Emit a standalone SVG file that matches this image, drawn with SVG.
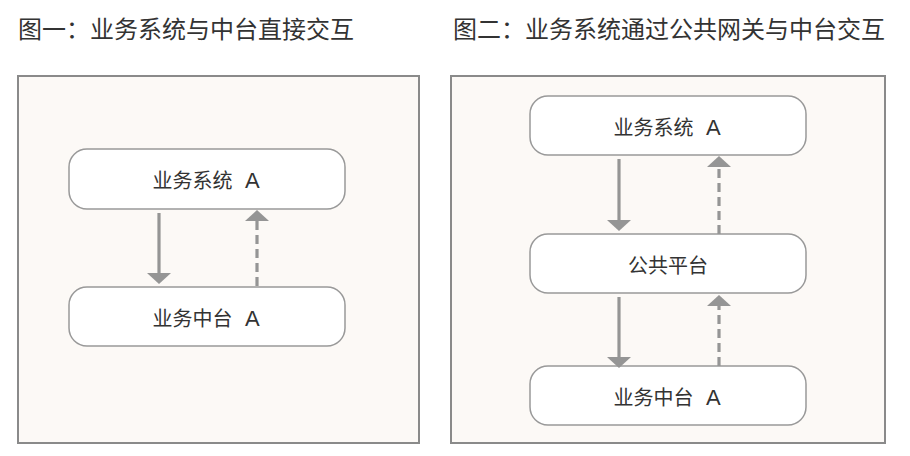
<svg xmlns="http://www.w3.org/2000/svg" width="910" height="456" viewBox="0 0 910 456">
<defs>
<style>
.title{font-family:"Noto Sans CJK SC","Noto Sans",sans-serif;font-size:24px;fill:#333}
.frame{fill:#fcf9f6;stroke:#8a8a8a;stroke-width:2}
.box{fill:#fff;stroke:#999;stroke-width:1.5}
.lbl{font-family:"Noto Sans CJK SC","Noto Sans",sans-serif;font-size:20px;fill:#333}
.lat{font-family:"Liberation Sans","Noto Sans",sans-serif;font-size:22px}
.arr{stroke:#959595;stroke-width:3.2;fill:none;marker-end:url(#ah)}
.dash{stroke-dasharray:9 5}
</style>
<marker id="ah" markerUnits="userSpaceOnUse" markerWidth="12" markerHeight="24" refX="5" refY="12" orient="auto" viewBox="0 0 12 24">
<path d="M0,0 L11,12 L0,24 z" fill="#959595"/>
</marker>
</defs>
<rect width="910" height="456" fill="#fff"/>
<text class="title" x="18" y="38">图一：业务系统与中台直接交互</text>
<text class="title" x="453" y="38">图二：业务系统通过公共网关与中台交互</text>
<g id="panel1">
<rect class="frame" x="18" y="76" width="401" height="367"/>
</g>
<g id="panel2">
<rect class="frame" x="451" y="76" width="434" height="367"/>
</g>
<g id="p1-sys">
<rect class="box" x="69" y="149" width="276" height="60" rx="18"/>
<text class="lbl" x="152.5" y="188">业务系统<tspan class="lat" x="245">A</tspan></text>
</g>
<g id="p1-mid">
<rect class="box" x="69" y="287" width="276" height="59" rx="18"/>
<text class="lbl" x="152.5" y="326">业务中台<tspan class="lat" x="245">A</tspan></text>
</g>
<g id="p2-sys">
<rect class="box" x="530" y="96" width="276" height="59" rx="18"/>
<text class="lbl" x="613.5" y="135">业务系统<tspan class="lat" x="706">A</tspan></text>
</g>
<g id="p2-pub">
<rect class="box" x="530" y="234" width="276" height="59" rx="18"/>
<text class="lbl" x="668" y="273" text-anchor="middle">公共平台</text>
</g>
<g id="p2-mid">
<rect class="box" x="530" y="366" width="276" height="59" rx="18"/>
<text class="lbl" x="613.5" y="405">业务中台<tspan class="lat" x="706">A</tspan></text>
</g>
<g id="connectors">
<line class="arr" x1="159" y1="213" x2="159" y2="278"/>
<line class="arr dash" x1="257" y1="286" x2="257" y2="216"/>
<line class="arr" x1="619" y1="159" x2="619" y2="225"/>
<line class="arr dash" x1="719" y1="234" x2="719" y2="162"/>
<line class="arr" x1="619" y1="297" x2="619" y2="362"/>
<line class="arr dash" x1="719" y1="366" x2="719" y2="301"/>
</g>
</svg>
